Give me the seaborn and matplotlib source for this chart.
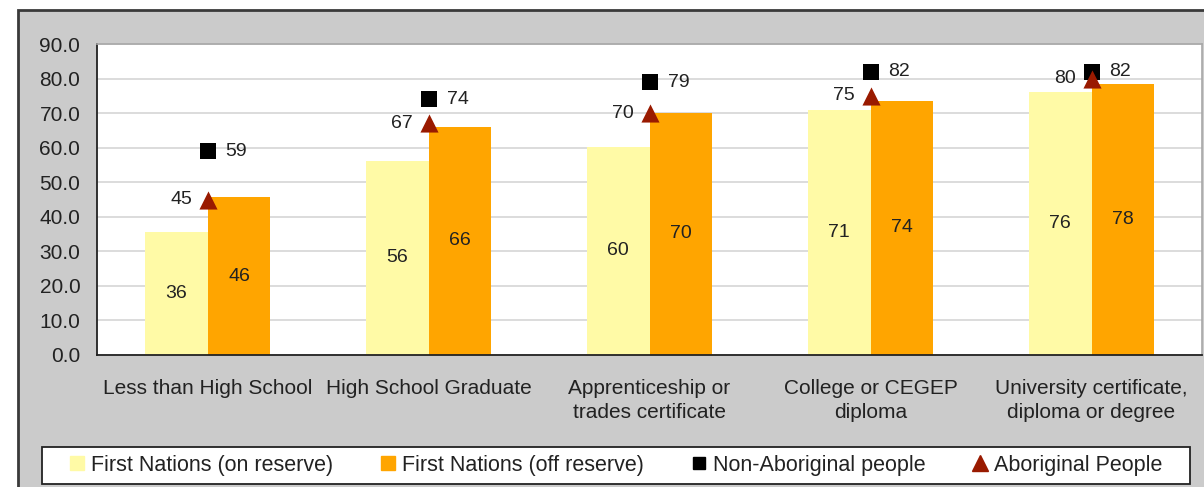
import matplotlib
matplotlib.use("Agg")
import matplotlib.pyplot as plt
from matplotlib.lines import Line2D
from matplotlib.patches import Rectangle
import numpy as np
import pandas as pd
import seaborn as sns


categories = [
    "Less than High School",
    "High School Graduate",
    "Apprenticeship or\ntrades certificate",
    "College or CEGEP\ndiploma",
    "University certificate,\ndiploma or degree",
]
on_reserve = [35.7, 56.2, 60.3, 71.0, 76.2]
off_reserve = [45.6, 66.0, 70.1, 73.6, 78.4]
non_aboriginal = [59, 74, 79, 82, 82]
aboriginal = [45, 67, 70, 75, 80]
series_names = [
    "First Nations (on reserve)",
    "First Nations (off reserve)",
    "Non-Aboriginal people",
    "Aboriginal People",
]
y_ticks = np.arange(0, 91, 10)

colors = ["#fffaa6", "#ffa500", "#000000", "#991a00"]
text_color = "#222222"

sns.set_style("white")
plt.rcParams["font.family"] = ["Liberation Sans", "DejaVu Sans"]

W, H = 1204, 487
fig = plt.figure(figsize=(W / 100, H / 100), dpi=100)
fig.patch.set_facecolor("white")

# grey chart area behind everything
fig.add_artist(Rectangle((18 / W, -0.1), 1.2, 0.1 + 1 - 10 / H, transform=fig.transFigure,
                         facecolor="#cbcbcb", edgecolor="#3a3a3a", lw=2, zorder=-5))

ax = fig.add_axes([97 / W, 1 - 355 / H, (1202 - 97) / W, (355 - 44) / H])
ax.set_facecolor("white")

bars = pd.DataFrame({
    "category": categories * 2,
    "value": on_reserve + off_reserve,
    "series": [series_names[0]] * len(categories) + [series_names[1]] * len(categories),
})
sns.barplot(data=bars, x="category", y="value", hue="series", hue_order=series_names[:2],
            palette=colors[:2], saturation=1, width=0.57, gap=0, legend=False, ax=ax,
            linewidth=0, edgecolor="none", zorder=2)

for cont in ax.containers:
    ax.bar_label(cont, fmt="%.0f", label_type="center", fontsize=14, color=text_color)

xpos = np.arange(len(categories))
ax.scatter(xpos, non_aboriginal, marker="s", s=145, color=colors[2], zorder=4, linewidths=0)
ax.scatter(xpos, aboriginal, marker="^", s=170, color=colors[3], zorder=5, linewidths=0)
for x, v in zip(xpos, non_aboriginal):
    ax.annotate(f"{v}", (x, v), xytext=(13, 0), textcoords="offset points",
                ha="left", va="center", fontsize=14, color=text_color, zorder=6)
for x, v in zip(xpos, aboriginal):
    ax.annotate(f"{v}", (x, v), xytext=(-11, 0), textcoords="offset points",
                ha="right", va="center", fontsize=14, color=text_color, zorder=6)

ax.set_xlim(-0.5, len(categories) - 0.5)
ax.set_ylim(0, 90)
ax.set_yticks(y_ticks)
ax.set_yticklabels([f"{t:.1f}" for t in y_ticks], fontsize=15, color=text_color)
ax.set_xticks(xpos)
ax.set_xticklabels(categories, fontsize=15, color=text_color, linespacing=1.35)
ax.set_xticks(np.arange(len(categories) + 1) - 0.5, minor=True)
ax.tick_params(axis="x", which="major", length=0, pad=17)
ax.tick_params(axis="x", which="minor", direction="inout", length=12, width=1.2, color="#222222")
ax.tick_params(axis="y", direction="inout", length=12, width=1.2, color="#222222", pad=6)
ax.set_xlabel("")
ax.set_ylabel("")
ax.grid(axis="y", color="#d9d9d9", lw=1.3, zorder=0)
ax.set_axisbelow(True)

for side in ["left", "bottom"]:
    ax.spines[side].set_color("#222222")
    ax.spines[side].set_linewidth(1.3)
for side in ["top", "right"]:
    ax.spines[side].set_color("#a8a8a8")
    ax.spines[side].set_linewidth(1.2)

# legend frame drawn on its own, entries packed in the middle
fig.add_artist(Rectangle((42 / W, 1 - 484 / H), (1190 - 42) / W, 37 / H,
                         transform=fig.transFigure, facecolor="white",
                         edgecolor="#222222", lw=1.3, zorder=3))
handles = [
    Line2D([], [], marker="s", linestyle="none", color=colors[0], markersize=10),
    Line2D([], [], marker="s", linestyle="none", color=colors[1], markersize=10),
    Line2D([], [], marker="s", linestyle="none", color=colors[2], markersize=9),
    Line2D([], [], marker="^", linestyle="none", color=colors[3], markersize=11),
]
leg = fig.legend(handles, series_names, loc="center", ncol=4,
                 bbox_to_anchor=(616 / W, 1 - 465 / H),
                 frameon=False, fontsize=15.5, handlelength=0.7, handletextpad=0.3,
                 columnspacing=2.2, borderaxespad=0, borderpad=0)
leg.set_zorder(4)
for t in leg.get_texts():
    t.set_color(text_color)

fig.savefig("out.png", dpi=100)
